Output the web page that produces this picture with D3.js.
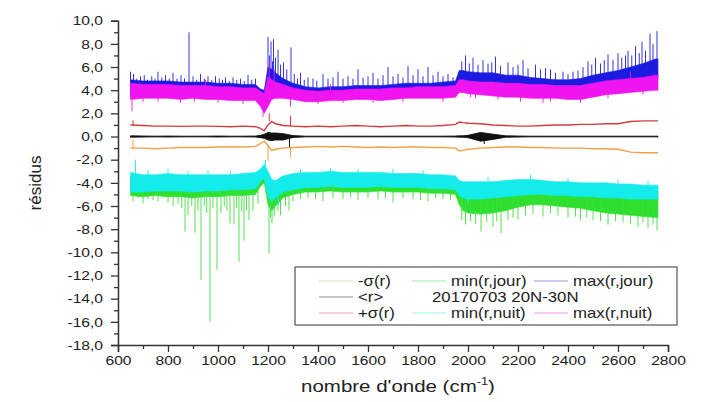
<!DOCTYPE html>
<html lang="fr">
<head>
<meta charset="UTF-8" />
<title>Résidus</title>
<script src="https://cdn.jsdelivr.net/npm/d3@7"></script>
<style>
  body { margin: 0; background: #fff; }
  svg text { font-family: "Liberation Sans", Arial, sans-serif; fill: #222; }
</style>
</head>
<body>
<svg id="chart" width="710" height="402"></svg>
<script>
// wavenumber grid (cm-1) on which the envelopes were read
var waveNumbers = [650,700,750,800,850,900,950,1000,1050,1100,1150,1170,1185,1200,1215,1230,1260,
  1300,1350,1400,1450,1500,1550,1600,1650,1700,1750,1800,1850,1900,1950,1965,1980,
  2000,2050,2100,2150,2200,2250,2300,2350,2400,2450,2500,2550,2600,2650,2700,2750,2760];

// max(r,nuit) - magenta band
var maxNuitLo = [3.2,3.3,3.3,3.3,3.2,3.3,3.2,3.2,3.1,3.1,3.1,2.6,2.0,2.6,3.2,3.3,3.3,
  3.2,3.0,3.0,3.1,3.1,3.2,3.2,3.1,3.2,3.3,3.3,3.3,3.3,3.4,3.8,3.8,
  3.7,3.6,3.5,3.4,3.4,3.3,3.3,3.3,3.2,3.2,3.4,3.6,3.7,3.8,3.9,4.0,4.0];
var maxNuitHi = [4.6,4.5,4.5,4.5,4.4,4.4,4.4,4.3,4.3,4.2,4.2,3.9,3.7,5.2,4.9,4.7,4.5,
  4.2,4.0,3.9,4.0,4.0,4.1,4.1,4.1,4.2,4.2,4.3,4.3,4.3,4.4,4.9,4.9,
  4.8,4.7,4.7,4.6,4.6,4.5,4.5,4.4,4.4,4.4,4.6,4.8,4.9,5.0,5.1,5.3,5.3];

// max(r,jour) - blue band
var maxJourLo = [3.5,3.6,3.6,3.6,3.5,3.6,3.5,3.5,3.4,3.4,3.4,2.9,2.4,3.0,3.6,3.6,3.6,
  3.5,3.3,3.3,3.4,3.4,3.5,3.5,3.4,3.5,3.6,3.6,3.6,3.6,3.8,4.4,4.4,
  4.3,4.2,4.1,4.0,4.0,3.9,3.8,3.8,3.7,3.8,4.0,4.2,4.4,4.6,4.8,5.0,5.0];
var maxJourHi = [4.9,4.8,4.8,4.8,4.7,4.7,4.7,4.6,4.6,4.5,4.5,4.1,4.0,6.0,5.8,5.5,5.0,
  4.6,4.3,4.2,4.3,4.3,4.4,4.4,4.4,4.5,4.6,4.6,4.6,4.7,4.8,5.7,5.7,
  5.6,5.5,5.5,5.3,5.3,5.1,5.0,4.9,4.9,5.0,5.3,5.5,5.7,6.0,6.3,6.7,6.7];

// min(r,nuit) - cyan band
var minNuitLo = [-4.8,-4.8,-4.7,-4.7,-4.7,-4.8,-4.7,-4.7,-4.6,-4.6,-4.5,-3.9,-3.6,-5.2,-5.6,-5.3,-4.8,
  -4.6,-4.4,-4.4,-4.3,-4.4,-4.4,-4.4,-4.3,-4.4,-4.4,-4.4,-4.5,-4.5,-4.6,-5.1,-5.3,
  -5.4,-5.4,-5.3,-5.2,-5.1,-5.0,-5.0,-5.1,-5.1,-5.2,-5.2,-5.3,-5.3,-5.4,-5.4,-5.4,-5.4];
var minNuitHi = [-3.1,-3.3,-3.3,-3.2,-3.3,-3.3,-3.3,-3.3,-3.3,-3.2,-3.1,-2.8,-2.4,-3.0,-3.7,-3.8,-3.4,
  -3.2,-3.1,-3.1,-3.0,-3.1,-3.1,-3.1,-3.1,-3.2,-3.2,-3.2,-3.3,-3.3,-3.4,-3.8,-3.9,
  -3.9,-3.9,-3.9,-3.8,-3.7,-3.7,-3.8,-3.9,-3.9,-4.0,-4.0,-4.0,-4.1,-4.1,-4.2,-4.2,-4.2];

// min(r,jour) - green band
var minJourLo = [-5.1,-5.2,-5.1,-5.2,-5.2,-5.3,-5.2,-5.2,-5.1,-5.1,-5.0,-4.3,-4.0,-5.9,-6.4,-6.0,-5.3,
  -5.0,-4.8,-4.8,-4.7,-4.8,-4.8,-4.8,-4.7,-4.8,-4.8,-4.8,-4.9,-4.9,-5.0,-5.9,-6.4,
  -6.6,-6.7,-6.6,-6.4,-6.1,-5.9,-5.9,-6.0,-6.1,-6.2,-6.4,-6.6,-6.7,-6.8,-6.9,-7.0,-7.0];
var minJourHi = [-3.5,-3.6,-3.6,-3.5,-3.6,-3.6,-3.6,-3.6,-3.6,-3.5,-3.4,-3.1,-2.8,-3.4,-4.0,-4.1,-3.7,
  -3.5,-3.4,-3.4,-3.3,-3.4,-3.4,-3.4,-3.4,-3.5,-3.5,-3.5,-3.6,-3.6,-3.7,-4.2,-4.3,
  -4.3,-4.3,-4.3,-4.2,-4.1,-4.1,-4.2,-4.3,-4.3,-4.4,-4.4,-4.4,-4.5,-4.5,-4.6,-4.6,-4.6];

// <r> - black band
var meanLo = [-0.06,-0.04,-0.03,-0.04,-0.03,-0.03,-0.03,-0.04,-0.03,-0.03,-0.04,-0.1,-0.15,-0.3,-0.35,-0.3,-0.3,
  -0.08,-0.03,-0.03,-0.03,-0.03,-0.03,-0.03,-0.03,-0.03,-0.03,-0.03,-0.03,-0.03,-0.04,-0.06,-0.06,
  -0.1,-0.4,-0.25,-0.06,-0.04,-0.03,-0.03,-0.03,-0.03,-0.03,-0.03,-0.03,-0.03,-0.03,-0.03,-0.03,-0.03];
var meanHi = [0.06,0.04,0.03,0.04,0.03,0.03,0.03,0.04,0.03,0.03,0.04,0.1,0.2,0.35,0.3,0.3,0.25,
  0.08,0.03,0.03,0.03,0.03,0.03,0.03,0.03,0.03,0.03,0.03,0.03,0.03,0.04,0.06,0.06,
  0.1,0.35,0.2,0.06,0.04,0.03,0.03,0.03,0.03,0.03,0.03,0.03,0.03,0.03,0.03,0.03,0.03];

// +sigma(r) and -sigma(r)
var plusSigma = [1.0,0.95,0.9,0.9,0.88,0.9,0.9,0.88,0.85,0.9,0.85,0.7,0.5,1.0,1.3,1.1,0.95,
  0.9,0.85,0.9,0.85,0.9,0.95,0.9,0.85,0.9,0.95,0.9,0.9,0.95,1.05,1.25,1.2,
  1.15,1.1,1.0,0.95,0.9,0.9,0.95,1.0,1.0,1.05,1.05,1.1,1.1,1.3,1.35,1.35,1.35];
var minusSigma = [-1.0,-1.0,-1.05,-1.0,-0.95,-0.95,-0.95,-0.9,-0.9,-0.9,-0.85,-0.6,-0.4,-0.8,-1.2,-1.1,-1.0,
  -0.95,-0.9,-0.85,-0.9,-0.85,-0.9,-0.95,-0.9,-0.95,-0.9,-0.9,-0.95,-0.95,-1.0,-1.25,-1.2,
  -1.1,-1.0,-0.95,-0.9,-0.9,-0.95,-0.95,-1.0,-1.0,-1.0,-1.05,-1.05,-1.1,-1.35,-1.4,-1.4,-1.4];

// isolated spikes: [wavenumber, tip value]
var maxJourSpikes = [[650,5.6],[662,5.4],[675,5.0],[690,5.2],[705,5.3],[718,4.9],[735,5.2],[748,5.0],
  [760,5.6],[775,5.1],[790,5.3],[805,5.0],[820,5.5],[836,5.0],[852,5.3],[866,5.0],[884,9.0],[900,5.2],
  [915,4.9],[930,5.4],[945,5.0],[960,5.2],[975,4.9],[990,5.2],[1005,5.0],[1018,4.9],[1030,5.1],
  [1045,4.8],[1060,5.1],[1075,4.9],[1090,5.0],[1105,4.8],[1120,5.3],[1135,4.9],[1150,5.0],
  [1200,8.6],[1206,7.0],[1212,8.2],[1218,6.5],[1222,8.4],[1230,6.8],[1240,7.5],[1250,6.2],[1262,6.4],
  [1275,5.8],[1292,7.7],[1305,5.4],[1318,5.0],[1330,5.5],[1345,4.9],[1360,5.1],[1380,5.0],[1395,4.8],
  [1420,5.4],[1440,5.0],[1460,5.1],[1480,5.6],[1500,5.0],[1520,5.2],[1540,5.0],[1560,5.8],[1580,5.1],
  [1600,5.2],[1620,5.5],[1640,5.0],[1660,5.3],[1680,6.0],[1700,5.2],[1720,5.4],[1740,5.1],[1760,6.1],
  [1780,5.3],[1800,5.8],[1820,5.2],[1840,6.0],[1860,5.3],[1880,5.6],[1900,5.2],[1920,5.4],[1940,5.1],
  [1975,6.5],[1990,7.0],[2005,6.3],[2020,6.8],[2040,6.2],[2060,6.6],[2080,6.3],[2095,6.4],[2110,6.9],
  [2130,6.1],[2160,6.4],[2180,6.0],[2200,6.2],[2220,6.6],[2240,5.9],[2270,6.2],[2290,5.8],[2310,5.9],
  [2330,5.8],[2350,5.5],[2380,5.6],[2400,5.4],[2420,5.6],[2440,5.7],[2460,6.0],[2480,6.5],[2495,6.2],
  [2510,6.8],[2530,6.3],[2545,6.6],[2560,7.1],[2580,6.6],[2600,7.2],[2615,6.8],[2630,7.0],[2640,7.4],
  [2655,7.0],[2670,7.8],[2685,7.2],[2696,8.2],[2710,7.4],[2728,8.9],[2740,8.0],[2756,9.1]];
var maxNuitSpikes = [[656,2.2],[700,3.0],[760,3.0],[850,2.9],[905,3.0],[950,4.9],[1000,2.9],[1100,2.8],
  [1180,1.7],[1205,6.6],[1225,5.8],[1290,2.6],[1400,2.8],[1450,4.5],[1500,2.9],[1620,2.9],[1740,3.0],
  [1900,3.0],[2010,3.4],[2030,3.3],[2120,3.2],[2210,3.0],[2300,2.9],[2330,3.0],[2450,2.9],[2560,3.3],
  [2650,5.6],[2700,3.6]];
var minJourSpikes = [[660,-5.6],[680,-5.3],[700,-5.8],[720,-5.4],[740,-5.5],[760,-5.6],[780,-5.3],
  [800,-5.7],[820,-6.0],[840,-5.8],[855,-6.2],[868,-8.2],[880,-6.8],[895,-6.0],[908,-8.3],[920,-6.4],
  [932,-12.4],[945,-6.0],[955,-6.6],[968,-16.0],[980,-6.2],[996,-11.5],[1012,-6.6],[1025,-6.0],
  [1036,-6.4],[1048,-7.5],[1064,-7.6],[1075,-6.2],[1084,-10.8],[1095,-6.5],[1104,-9.0],[1114,-6.4],
  [1124,-7.2],[1140,-6.4],[1160,-5.8],[1204,-10.1],[1210,-7.0],[1216,-7.5],[1225,-6.9],[1240,-6.4],
  [1250,-6.8],[1270,-6.0],[1284,-6.4],[1300,-5.6],[1330,-5.4],[1360,-5.3],[1390,-5.4],[1420,-5.6],
  [1460,-5.3],[1500,-5.4],[1530,-5.2],[1560,-5.5],[1600,-5.3],[1640,-5.4],[1670,-5.3],[1700,-5.7],
  [1740,-5.3],[1780,-5.4],[1810,-5.5],[1840,-5.6],[1870,-5.3],[1900,-5.4],[1930,-5.5],[1975,-7.2],
  [1990,-7.6],[2010,-7.3],[2030,-7.5],[2052,-8.2],[2075,-7.4],[2100,-7.8],[2115,-7.3],[2132,-8.35],
  [2160,-7.2],[2180,-7.0],[2200,-7.2],[2230,-6.8],[2260,-6.7],[2300,-6.9],[2330,-6.6],[2360,-6.8],
  [2400,-7.0],[2430,-6.9],[2450,-7.2],[2475,-7.0],[2500,-7.2],[2530,-7.3],[2560,-7.6],[2590,-7.3],
  [2620,-7.4],[2650,-7.5],[2680,-7.8],[2700,-7.4],[2720,-7.9],[2740,-7.6],[2756,-8.1]];
var minNuitSpikes = [[670,-2.0],[720,-2.9],[800,-2.8],[880,-3.0],[960,-2.9],[1050,-3.0],[1190,-2.0],
  [1240,-6.0],[1330,-2.8],[1450,-2.7],[1560,-2.8],[1700,-2.8],[1820,-2.9],[2000,-5.9],[2080,-3.5],
  [2250,-3.3],[2400,-3.6],[2600,-3.7],[2720,-3.8]];
var plusSigmaSpikes = [[660,1.4],[1205,2.0],[1290,1.8]];
var minusSigmaSpikes = [[660,-0.3],[1200,-2.1],[1290,-1.8]];
var meanSpikes = [[1286,-0.9],[2065,-0.65]];

var legendLabels = ["-\u03c3(r)", "<r>", "+\u03c3(r)", "min(r,jour)", "min(r,nuit)", "max(r,jour)", "max(r,nuit)"];
var legendTitle = "20170703 20N-30N";

var svg = d3.select("#chart");

var x = d3.scaleLinear().domain([600, 2800]).range([118, 668]);
var y = d3.scaleLinear().domain([-18, 10]).range([345, 20.7]);

// the original picture is a bit stretched sideways, so is its text
var stretch = 1.2;

var colors = {
  maxJour: "#1c1ce0",
  maxNuit: "#f014f0",
  minJour: "#2ee02e",
  minNuit: "#14ecec",
  plus: "#d43c3c",
  minus: "#f0a048",
  mean: "#111111"
};

var plot = svg.append("g");

function band(lo, hi, color, sw) {
  var area = d3.area()
    .x(function(d, i) { return x(waveNumbers[i]); })
    .y0(function(d, i) { return y(lo[i]); })
    .y1(function(d, i) { return y(hi[i]); });
  plot.append("path")
    .datum(lo)
    .attr("d", area)
    .attr("fill", color)
    .attr("stroke", color)
    .attr("stroke-width", sw || 0.6);
}

function line(vals, color, sw) {
  var ln = d3.line()
    .x(function(d, i) { return x(waveNumbers[i]); })
    .y(function(d) { return y(d); });
  plot.append("path")
    .datum(vals)
    .attr("d", ln)
    .attr("fill", "none")
    .attr("stroke", color)
    .attr("stroke-width", sw || 1.2);
}

var bis = d3.bisector(function(d) { return d; }).left;
function spikes(list, lo, hi, color, sw) {
  plot.selectAll(null)
    .data(list)
    .enter()
    .append("line")
    .attr("x1", function(d) { return x(d[0]); })
    .attr("x2", function(d) { return x(d[0]); })
    .attr("y1", function(d) {
      var i = Math.min(bis(waveNumbers, d[0]), waveNumbers.length - 1);
      return y((lo[i] + hi[i]) / 2);
    })
    .attr("y2", function(d) { return y(d[1]); })
    .attr("stroke", color)
    .attr("stroke-width", sw || 1);
}

// lower group
band(minJourLo, minJourHi, colors.minJour);
spikes(minJourSpikes, minJourLo, minJourHi, "#40dc40", 0.9);
band(minNuitLo, minNuitHi, colors.minNuit);
spikes(minNuitSpikes, minNuitLo, minNuitHi, colors.minNuit, 0.9);

// upper group
band(maxJourLo, maxJourHi, colors.maxJour);
spikes(maxJourSpikes, maxJourLo, maxJourHi, colors.maxJour, 0.9);
band(maxNuitLo, maxNuitHi, colors.maxNuit);
spikes(maxNuitSpikes, maxNuitLo, maxNuitHi, colors.maxNuit, 0.9);

// sigma and mean
line(plusSigma, colors.plus, 1.4);
spikes(plusSigmaSpikes, plusSigma, plusSigma, colors.plus, 1);
line(minusSigma, colors.minus, 1.4);
spikes(minusSigmaSpikes, minusSigma, minusSigma, colors.minus, 1);
band(meanLo, meanHi, colors.mean, 0.9);
spikes(meanSpikes, meanLo, meanHi, colors.mean, 1);

// axes
var fmt = function(d) { return d3.format(".1f")(d).replace(".", ",").replace("\u2212", "-"); };

svg.append("g")
  .attr("class", "yaxis")
  .attr("transform", "translate(118,0)")
  .call(d3.axisLeft(y).tickValues(d3.range(-18, 10.1, 2)).tickSize(7).tickPadding(8).tickFormat(fmt));
svg.append("g")
  .attr("transform", "translate(118,0)")
  .call(d3.axisLeft(y).tickValues(d3.range(-17, 10, 2)).tickSize(4).tickFormat(""))
  .select(".domain").remove();

svg.append("g")
  .attr("class", "xaxis")
  .attr("transform", "translate(0,345)")
  .call(d3.axisBottom(x).tickValues(d3.range(600, 2801, 200)).tickSize(7).tickPadding(4).tickFormat(d3.format("d")));
svg.append("g")
  .attr("transform", "translate(0,345)")
  .call(d3.axisBottom(x).tickValues(d3.range(700, 2800, 200)).tickSize(4).tickFormat(""))
  .select(".domain").remove();

svg.selectAll(".domain").attr("stroke", "#333").attr("stroke-width", 1.5);
svg.selectAll(".tick line").attr("stroke", "#333").attr("stroke-width", 1.3);
svg.selectAll(".tick text").attr("font-size", 13).attr("fill", "#222")
  .attr("font-family", "'Liberation Sans', Arial, sans-serif");

svg.selectAll(".yaxis .tick text").each(function() {
  var t = d3.select(this);
  var tx = +t.attr("x");
  t.attr("x", 0).attr("transform", "translate(" + tx + ",0) scale(" + stretch + ",1)");
});
svg.selectAll(".xaxis .tick text").attr("transform", "scale(" + stretch + ",1)");

// axis titles
svg.append("text")
  .attr("transform", "translate(41,183) rotate(-90)")
  .attr("text-anchor", "middle")
  .attr("font-size", 17)
  .text("résidus");

var xt = svg.append("text")
  .attr("transform", "translate(398,392) scale(1.28,1)")
  .attr("text-anchor", "middle")
  .attr("font-size", 16)
  .text("nombre d'onde (cm");
xt.append("tspan").attr("font-size", 10).attr("dy", -7).text("-1");
xt.append("tspan").attr("dy", 7).text(")");

// legend
var lg = svg.append("g");
lg.append("rect")
  .attr("x", 295).attr("y", 267).attr("width", 382).attr("height", 58)
  .attr("fill", "#fff").attr("stroke", "#555").attr("stroke-width", 1.2);

var legendItems = [
  { label: legendLabels[0], color: colors.minus, col: 0, row: 0 },
  { label: legendLabels[1], color: colors.mean, col: 0, row: 1 },
  { label: legendLabels[2], color: colors.plus, col: 0, row: 2 },
  { label: legendLabels[3], color: colors.minJour, col: 1, row: 0 },
  { label: legendLabels[4], color: colors.minNuit, col: 1, row: 2 },
  { label: legendLabels[5], color: colors.maxJour, col: 2, row: 0 },
  { label: legendLabels[6], color: colors.maxNuit, col: 2, row: 2 }
];
var colX = [319, 412, 534];
var rowY = [281, 297, 313];

legendItems.forEach(function(it) {
  lg.append("line")
    .attr("x1", colX[it.col]).attr("x2", colX[it.col] + 34)
    .attr("y1", rowY[it.row]).attr("y2", rowY[it.row])
    .attr("stroke", it.color).attr("stroke-width", 1.2).attr("opacity", 0.45);
  lg.append("text")
    .attr("transform", "translate(" + (colX[it.col] + 39) + "," + (rowY[it.row] + 5) + ") scale(" + stretch + ",1)")
    .attr("font-size", 14)
    .text(it.label);
});
lg.append("text")
  .attr("transform", "translate(432," + (rowY[1] + 5) + ") scale(" + stretch + ",1)")
  .attr("font-size", 14)
  .text(legendTitle);
</script>
</body>
</html>
